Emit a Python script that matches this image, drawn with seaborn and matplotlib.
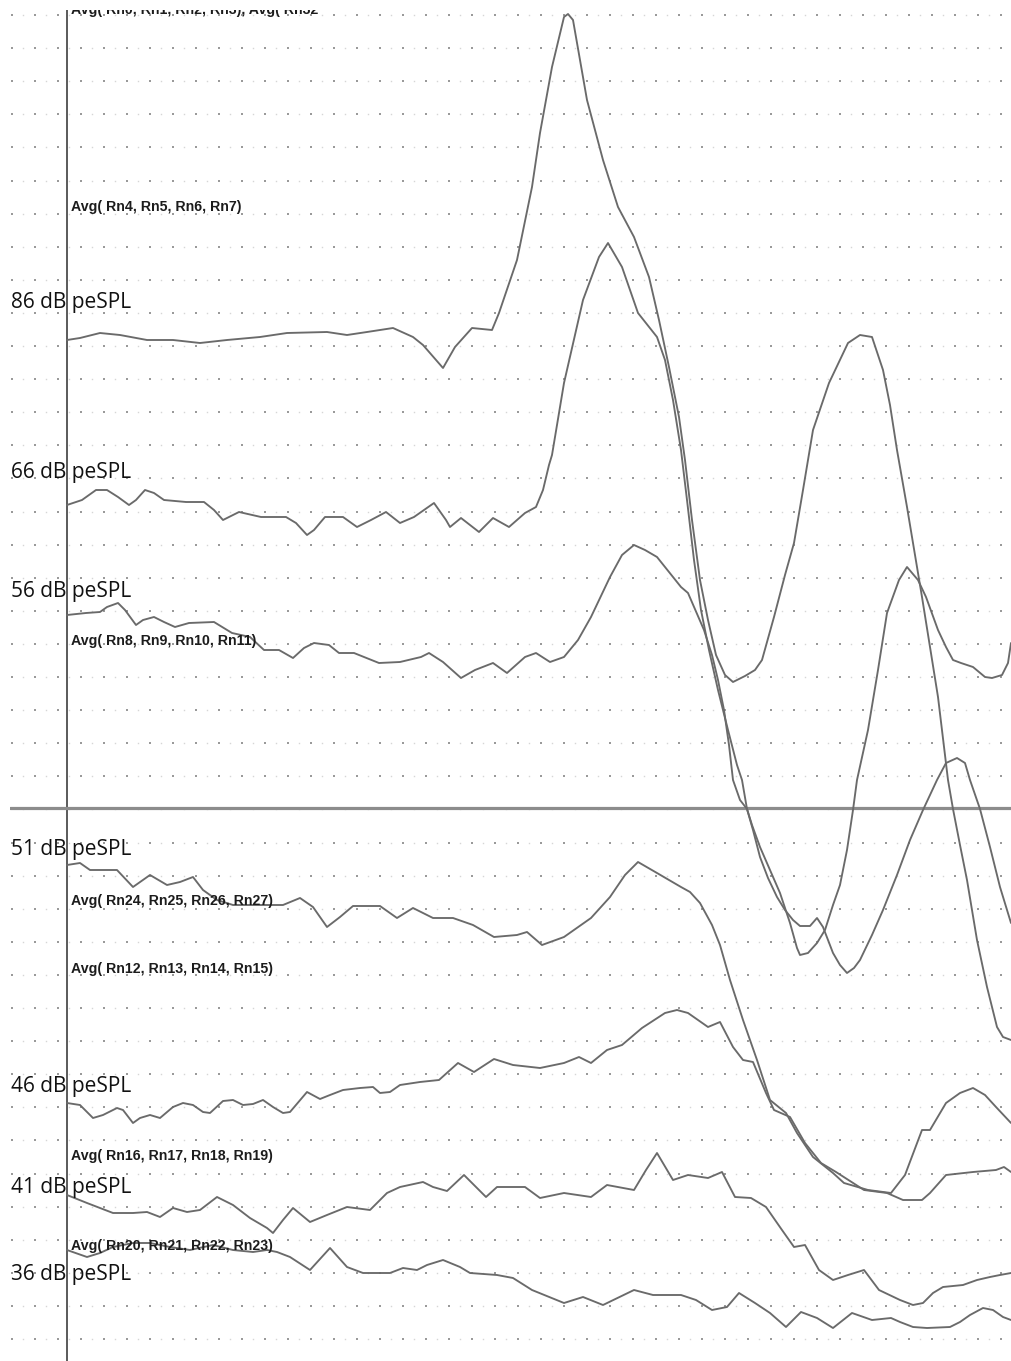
import numpy as np
import pandas as pd
import matplotlib.pyplot as plt
import seaborn as sns

# --- waveforms: time in ms, amplitude in uV (relative to start) ---
t_86 = [0.00, 0.13, 0.33, 0.53, 0.80, 1.06, 1.33, 1.60, 1.93, 2.20, 2.60, 2.80, 3.00, 3.26,
        3.46, 3.56, 3.76, 3.88, 4.05, 4.25, 4.32, 4.50, 4.65, 4.73, 4.85, 4.97, 5.01, 5.06,
        5.20, 5.36, 5.51, 5.67, 5.82, 5.92, 6.02, 6.12, 6.18, 6.25, 6.33, 6.41, 6.49, 6.58,
        6.66, 6.78, 6.88, 6.95, 7.07, 7.18, 7.27, 7.36, 7.46, 7.62, 7.81, 7.93, 8.05, 8.16,
        8.23, 8.30, 8.40, 8.55, 8.71, 8.81, 8.86, 8.93, 9.00, 9.10, 9.20, 9.30, 9.36, 9.44]
v_86 = [0.00, 0.02, 0.07, 0.05, 0.00, 0.00, -0.03, 0.00, 0.03, 0.07, 0.08, 0.05, 0.08, 0.12,
        0.03, -0.05, -0.28, -0.07, 0.12, 0.10, 0.27, 0.80, 1.53, 2.07, 2.73, 3.23, 3.26, 3.20,
        2.40, 1.80, 1.33, 1.03, 0.63, 0.20, -0.27, -0.77, -1.20, -1.80, -2.40, -2.80, -3.15, -3.35,
        -3.42, -3.36, -3.30, -3.20, -2.77, -2.35, -2.03, -1.50, -0.90, -0.43, -0.03, 0.05, 0.03, -0.30,
        -0.65, -1.10, -1.67, -2.57, -3.57, -4.40, -4.69, -5.05, -5.40, -6.00, -6.47, -6.87, -6.97, -7.00]

t_66 = [0.00, 0.15, 0.29, 0.40, 0.51, 0.62, 0.69, 0.78, 0.87, 0.97, 1.19, 1.37, 1.47, 1.56,
        1.72, 1.94, 2.19, 2.29, 2.40, 2.47, 2.58, 2.76, 2.90, 3.04, 3.19, 3.33, 3.47, 3.67,
        3.79, 3.83, 3.94, 4.12, 4.26, 4.42, 4.58, 4.69, 4.76, 4.82, 4.85, 4.97, 5.16, 5.32,
        5.41, 5.55, 5.71, 5.90, 5.98, 6.06, 6.14, 6.20, 6.27, 6.34, 6.42, 6.51, 6.61, 6.70,
        6.75, 6.80, 6.85, 6.93, 7.03, 7.13, 7.23, 7.30, 7.33, 7.41, 7.50, 7.58, 7.66, 7.73,
        7.80, 7.86, 7.90, 8.01, 8.11, 8.20, 8.32, 8.40, 8.51, 8.59, 8.71, 8.79, 8.86, 8.94,
        9.06, 9.18, 9.25, 9.35, 9.41, 9.44]
v_66 = [0.00, 0.05, 0.15, 0.15, 0.08, 0.00, 0.05, 0.15, 0.12, 0.05, 0.03, 0.03, -0.05, -0.15,
        -0.07, -0.12, -0.12, -0.18, -0.30, -0.25, -0.12, -0.12, -0.22, -0.15, -0.07, -0.18, -0.12, 0.02,
        -0.15, -0.22, -0.13, -0.27, -0.13, -0.22, -0.08, -0.02, 0.15, 0.40, 0.50, 1.22, 2.05, 2.48,
        2.62, 2.38, 1.92, 1.68, 1.45, 1.05, 0.55, 0.05, -0.55, -1.05, -1.45, -1.85, -2.25, -2.60,
        -2.75, -3.04, -3.20, -3.42, -3.65, -3.88, -4.18, -4.43, -4.50, -4.48, -4.38, -4.25, -4.00, -3.80,
        -3.45, -3.05, -2.75, -2.25, -1.65, -1.08, -0.75, -0.62, -0.75, -0.92, -1.25, -1.42, -1.55, -1.58,
        -1.62, -1.72, -1.73, -1.70, -1.58, -1.38]

t_56 = [0.00, 0.19, 0.33, 0.40, 0.51, 0.58, 0.69, 0.76, 0.87, 0.97, 1.08, 1.22, 1.47, 1.65,
        1.83, 1.97, 2.12, 2.26, 2.37, 2.47, 2.62, 2.72, 2.87, 2.97, 3.12, 3.33, 3.54, 3.62,
        3.76, 3.94, 4.08, 4.26, 4.40, 4.58, 4.69, 4.83, 4.97, 5.11, 5.24, 5.43, 5.55, 5.67,
        5.78, 5.90, 6.14, 6.21, 6.37, 6.45, 6.51, 6.57, 6.62, 6.66, 6.73, 6.80, 6.86, 6.93,
        7.01, 7.10, 7.18, 7.26, 7.33, 7.43, 7.50, 7.56, 7.66, 7.73, 7.80, 7.87, 7.93, 8.05,
        8.16, 8.30, 8.43, 8.56, 8.70, 8.79, 8.90, 8.98, 9.03, 9.13, 9.23, 9.33, 9.44]
v_56 = [0.00, 0.02, 0.03, 0.08, 0.12, 0.05, -0.10, -0.05, -0.02, -0.07, -0.12, -0.08, -0.07, -0.18,
        -0.22, -0.35, -0.35, -0.43, -0.33, -0.28, -0.30, -0.38, -0.38, -0.42, -0.48, -0.47, -0.42, -0.38,
        -0.47, -0.63, -0.55, -0.48, -0.58, -0.42, -0.38, -0.47, -0.42, -0.25, -0.02, 0.38, 0.60, 0.70,
        0.65, 0.58, 0.28, 0.22, -0.15, -0.40, -0.65, -0.95, -1.30, -1.65, -1.85, -1.94, -2.15, -2.42,
        -2.63, -2.82, -2.95, -3.05, -3.11, -3.11, -3.03, -3.12, -3.38, -3.50, -3.58, -3.53, -3.45, -3.20,
        -2.95, -2.60, -2.25, -1.95, -1.65, -1.48, -1.43, -1.48, -1.65, -1.94, -2.32, -2.72, -3.08]

t_51 = [0.00, 0.13, 0.23, 0.50, 0.66, 0.83, 1.00, 1.13, 1.26, 1.36, 1.50, 1.66, 2.16, 2.33,
        2.46, 2.60, 2.73, 2.86, 3.13, 3.30, 3.46, 3.66, 3.86, 4.06, 4.27, 4.50, 4.60, 4.75,
        4.97, 5.24, 5.43, 5.58, 5.71, 5.90, 6.14, 6.23, 6.33, 6.45, 6.53, 6.63, 6.76, 6.90,
        7.03, 7.19, 7.30, 7.46, 7.66, 7.77, 8.01, 8.24, 8.38, 8.55, 8.63, 8.79, 8.93, 9.06,
        9.18, 9.29, 9.44]
v_51 = [0.00, 0.02, -0.05, -0.05, -0.22, -0.10, -0.20, -0.17, -0.12, -0.25, -0.35, -0.40, -0.40, -0.33,
        -0.42, -0.62, -0.52, -0.41, -0.41, -0.53, -0.43, -0.53, -0.53, -0.60, -0.72, -0.70, -0.67, -0.80,
        -0.72, -0.53, -0.32, -0.10, 0.03, -0.08, -0.22, -0.27, -0.38, -0.60, -0.80, -1.15, -1.55, -1.95,
        -2.35, -2.48, -2.68, -2.92, -3.08, -3.18, -3.25, -3.28, -3.10, -2.65, -2.65, -2.38, -2.28, -2.23,
        -2.30, -2.42, -2.58]

t_46 = [0.00, 0.13, 0.26, 0.36, 0.50, 0.56, 0.66, 0.73, 0.83, 0.93, 1.06, 1.16, 1.26, 1.36,
        1.43, 1.56, 1.66, 1.76, 1.86, 1.96, 2.06, 2.16, 2.23, 2.40, 2.53, 2.63, 2.76, 2.93,
        3.06, 3.13, 3.23, 3.33, 3.53, 3.72, 3.91, 4.07, 4.27, 4.46, 4.73, 4.97, 5.12, 5.24,
        5.40, 5.55, 5.75, 5.98, 6.10, 6.21, 6.41, 6.53, 6.66, 6.76, 6.86, 6.99, 7.07, 7.23,
        7.38, 7.54, 7.69, 7.97, 8.20, 8.36, 8.55, 8.63, 8.79, 9.06, 9.29, 9.37, 9.44]
v_46 = [0.00, -0.02, -0.15, -0.12, -0.05, -0.07, -0.20, -0.15, -0.12, -0.15, -0.04, 0.00, -0.02, -0.09,
        -0.10, 0.02, 0.03, -0.02, -0.01, 0.03, -0.04, -0.10, -0.09, 0.11, 0.04, 0.08, 0.13, 0.15,
        0.16, 0.10, 0.11, 0.18, 0.21, 0.23, 0.40, 0.31, 0.44, 0.38, 0.35, 0.40, 0.46, 0.40,
        0.53, 0.58, 0.75, 0.90, 0.93, 0.90, 0.76, 0.81, 0.56, 0.43, 0.41, 0.10, -0.07, -0.14,
        -0.40, -0.60, -0.69, -0.87, -0.90, -0.97, -0.97, -0.90, -0.72, -0.69, -0.67, -0.64, -0.69]

t_41 = [0.00, 0.20, 0.33, 0.46, 0.66, 0.80, 0.93, 1.06, 1.20, 1.33, 1.50, 1.66, 1.83, 2.00,
        2.06, 2.16, 2.26, 2.43, 2.60, 2.80, 3.03, 3.20, 3.33, 3.56, 3.66, 3.80, 3.97, 4.19,
        4.30, 4.58, 4.73, 4.97, 5.24, 5.40, 5.67, 5.79, 5.90, 6.06, 6.21, 6.41, 6.55, 6.68,
        6.84, 6.99, 7.15, 7.27, 7.38, 7.52, 7.66, 7.81, 7.97, 8.12, 8.33, 8.46, 8.56, 8.66,
        8.76, 8.96, 9.10, 9.23, 9.33, 9.44]
v_41 = [0.00, -0.08, -0.13, -0.18, -0.18, -0.17, -0.22, -0.13, -0.17, -0.15, -0.02, -0.10, -0.23, -0.33,
        -0.38, -0.25, -0.13, -0.27, -0.20, -0.12, -0.15, 0.02, 0.08, 0.13, 0.08, 0.04, 0.20, -0.02,
        0.08, 0.08, -0.03, 0.02, -0.02, 0.10, 0.05, 0.25, 0.42, 0.15, 0.20, 0.17, 0.23, -0.02,
        -0.03, -0.12, -0.35, -0.52, -0.50, -0.75, -0.85, -0.80, -0.75, -0.95, -1.05, -1.10, -1.08, -0.98,
        -0.92, -0.90, -0.85, -0.82, -0.80, -0.78]

t_36 = [0.00, 0.20, 0.33, 0.46, 0.66, 0.83, 1.03, 1.23, 1.46, 1.66, 1.86, 2.00, 2.10, 2.23,
        2.43, 2.63, 2.80, 2.96, 3.23, 3.36, 3.50, 3.60, 3.76, 3.93, 4.03, 4.30, 4.46, 4.65,
        4.97, 5.16, 5.36, 5.67, 5.86, 6.14, 6.29, 6.45, 6.60, 6.72, 6.88, 7.03, 7.19, 7.34,
        7.50, 7.66, 7.85, 8.05, 8.24, 8.33, 8.46, 8.60, 8.83, 8.93, 9.03, 9.16, 9.26, 9.36,
        9.44]
v_36 = [0.00, -0.07, -0.03, 0.03, 0.07, 0.07, 0.03, 0.00, 0.05, 0.00, -0.02, 0.00, -0.02, -0.07,
        -0.20, 0.02, -0.17, -0.23, -0.23, -0.18, -0.20, -0.15, -0.10, -0.17, -0.23, -0.25, -0.28, -0.40,
        -0.53, -0.47, -0.55, -0.40, -0.45, -0.45, -0.50, -0.60, -0.57, -0.43, -0.53, -0.63, -0.77, -0.62,
        -0.68, -0.78, -0.63, -0.70, -0.68, -0.72, -0.77, -0.78, -0.77, -0.72, -0.65, -0.58, -0.60, -0.67,
        -0.70]

levels = ["86 dB peSPL", "66 dB peSPL", "56 dB peSPL", "51 dB peSPL",
          "46 dB peSPL", "41 dB peSPL", "36 dB peSPL"]
run_labels = ["Avg( Rn4, Rn5, Rn6, Rn7)", "Avg( Rn8, Rn9, Rn10, Rn11)",
              "Avg( Rn24, Rn25, Rn26, Rn27)", "Avg( Rn12, Rn13, Rn14, Rn15)",
              "Avg( Rn16, Rn17, Rn18, Rn19)", "Avg( Rn20, Rn21, Rn22, Rn23)"]
top_label = "Avg( Rn0, Rn1, Rn2, Rn3), Avg( Rn32"

# --- layout (screen stacking) ---
trace_offset = {"86 dB peSPL": -3.40, "66 dB peSPL": -5.05, "56 dB peSPL": -6.15,
                "51 dB peSPL": -8.65, "46 dB peSPL": -11.03, "41 dB peSPL": -11.95,
                "36 dB peSPL": -12.50}
level_y = [-3.08, -4.78, -5.97, -8.55, -10.92, -11.93, -12.80]
run_y = [-2.11, -6.45, -9.05, -9.73, -11.60, -12.50]

series = [(t_86, v_86), (t_66, v_66), (t_56, v_56), (t_51, v_51),
          (t_46, v_46), (t_41, v_41), (t_36, v_36)]
frames = []
for name, (t, v) in zip(levels, series):
    d = pd.DataFrame({"t": t, "v": v})
    d["trace"] = name
    d["y"] = d["v"] + trace_offset[name]
    frames.append(d)
df = pd.concat(frames, ignore_index=True)

sns.set_style("white")
plt.rcParams['font.family'] = ['Open Sans', 'DejaVu Sans']

fig = plt.figure(figsize=(10.11, 13.61), dpi=100, facecolor="white")
ax = fig.add_axes([10 / 1011, 0, 1001 / 1011, 1351 / 1361])
ax.set_facecolor("#f2f2f2")
ax.set_xlim(-0.57, 9.44)
ax.set_ylim(-13.61, -0.10)

# dotted screen grid
gx = np.arange(-0.553, 9.45, 0.23)
gy = -(0.15 + 0.331 * np.arange(0, 41))
GX, GY = np.meshgrid(gx, gy)
ax.plot(GX.ravel() + 0.115, GY.ravel(), ls="none", marker="s", ms=1.0,
        color="#d6d6d6", mew=0, zorder=1)
ax.plot(GX.ravel(), GY.ravel(), ls="none", marker="s", ms=1.6,
        color="#9a9a9a", mew=0, zorder=1)

ax.axvline(0, color="#5a5a5a", lw=1.4, zorder=2)
ax.axhline(-8.08, color="#8c8c8c", lw=2.3, zorder=2)

sns.lineplot(data=df, x="t", y="y", units="trace", estimator=None, sort=False,
             color="#6a6a6a", lw=1.35, legend=False, ax=ax, zorder=3)
ax.axis("off")
ax.patch.set_visible(True)

small = ['Liberation Sans', 'DejaVu Sans']
for name, y in zip(levels, level_y):
    ax.text(-0.56, y, name, fontsize=15, color="#111111", ha="left", va="baseline",
            zorder=4)
for lab, y in zip(run_labels, run_y):
    ax.text(0.04, y, lab, fontsize=10.2, family=small, weight="bold", color="#1c1c1c",
            ha="left", va="baseline", zorder=4)
ax.text(0.04, -0.14, top_label, fontsize=10.2, family=small, weight="bold",
        color="#1c1c1c", ha="left", va="baseline", zorder=4, clip_on=True)

fig.savefig("out.png", dpi=100)
